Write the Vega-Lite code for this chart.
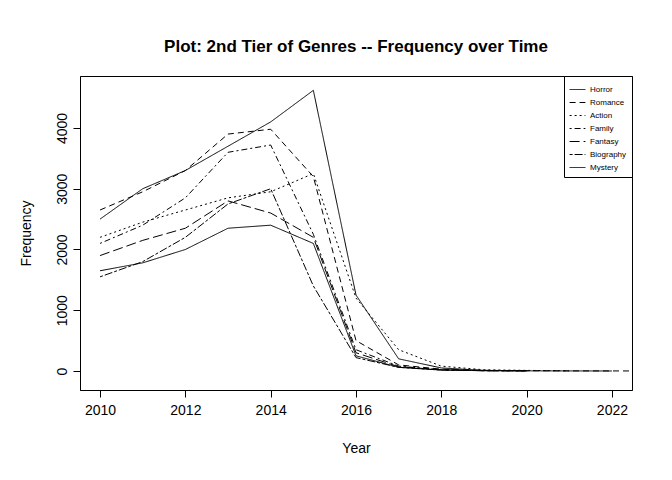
{
  "$schema": "https://vega.github.io/schema/vega-lite/v6.json",
  "width": 552,
  "height": 314,
  "autosize": "none",
  "padding": {"left": 80, "top": 76, "right": 40, "bottom": 90},
  "title": {"text": "Plot: 2nd Tier of Genres -- Frequency over Time", "font": "Liberation Sans", "fontSize": 17, "fontWeight": "bold", "offset": 20},
  "config": {"view": {"stroke": "black", "strokeWidth": 1}, "font": "Liberation Sans"},
  "data": {"values": [
    {"g":"Horror","y":2010,"v":2500},{"g":"Horror","y":2011,"v":3000},{"g":"Horror","y":2012,"v":3300},{"g":"Horror","y":2013,"v":3700},{"g":"Horror","y":2014,"v":4100},{"g":"Horror","y":2015,"v":4620},{"g":"Horror","y":2016,"v":1250},{"g":"Horror","y":2017,"v":200},{"g":"Horror","y":2018,"v":50},{"g":"Horror","y":2019,"v":10},{"g":"Horror","y":2020,"v":5},
    {"g":"Romance","y":2010,"v":2650},{"g":"Romance","y":2011,"v":2950},{"g":"Romance","y":2012,"v":3300},{"g":"Romance","y":2013,"v":3900},{"g":"Romance","y":2014,"v":3980},{"g":"Romance","y":2015,"v":3200},{"g":"Romance","y":2016,"v":500},{"g":"Romance","y":2017,"v":100},{"g":"Romance","y":2018,"v":30},{"g":"Romance","y":2019,"v":10},{"g":"Romance","y":2020,"v":5},{"g":"Romance","y":2021,"v":2},{"g":"Romance","y":2022,"v":1},{"g":"Romance","y":2023,"v":0},
    {"g":"Action","y":2010,"v":2200},{"g":"Action","y":2011,"v":2450},{"g":"Action","y":2012,"v":2650},{"g":"Action","y":2013,"v":2850},{"g":"Action","y":2014,"v":2950},{"g":"Action","y":2015,"v":3250},{"g":"Action","y":2016,"v":1200},{"g":"Action","y":2017,"v":350},{"g":"Action","y":2018,"v":80},{"g":"Action","y":2019,"v":20},{"g":"Action","y":2020,"v":10},{"g":"Action","y":2021,"v":3},
    {"g":"Family","y":2010,"v":2100},{"g":"Family","y":2011,"v":2400},{"g":"Family","y":2012,"v":2850},{"g":"Family","y":2013,"v":3600},{"g":"Family","y":2014,"v":3720},{"g":"Family","y":2015,"v":2250},{"g":"Family","y":2016,"v":350},{"g":"Family","y":2017,"v":80},{"g":"Family","y":2018,"v":20},{"g":"Family","y":2019,"v":5},{"g":"Family","y":2020,"v":2},
    {"g":"Fantasy","y":2010,"v":1900},{"g":"Fantasy","y":2011,"v":2150},{"g":"Fantasy","y":2012,"v":2350},{"g":"Fantasy","y":2013,"v":2800},{"g":"Fantasy","y":2014,"v":2600},{"g":"Fantasy","y":2015,"v":2200},{"g":"Fantasy","y":2016,"v":300},{"g":"Fantasy","y":2017,"v":70},{"g":"Fantasy","y":2018,"v":20},{"g":"Fantasy","y":2019,"v":5},{"g":"Fantasy","y":2020,"v":2},
    {"g":"Biography","y":2010,"v":1550},{"g":"Biography","y":2011,"v":1800},{"g":"Biography","y":2012,"v":2200},{"g":"Biography","y":2013,"v":2750},{"g":"Biography","y":2014,"v":3000},{"g":"Biography","y":2015,"v":1400},{"g":"Biography","y":2016,"v":220},{"g":"Biography","y":2017,"v":60},{"g":"Biography","y":2018,"v":15},{"g":"Biography","y":2019,"v":5},{"g":"Biography","y":2020,"v":2},
    {"g":"Mystery","y":2010,"v":1650},{"g":"Mystery","y":2011,"v":1780},{"g":"Mystery","y":2012,"v":2000},{"g":"Mystery","y":2013,"v":2350},{"g":"Mystery","y":2014,"v":2400},{"g":"Mystery","y":2015,"v":2100},{"g":"Mystery","y":2016,"v":250},{"g":"Mystery","y":2017,"v":60},{"g":"Mystery","y":2018,"v":15},{"g":"Mystery","y":2019,"v":5},{"g":"Mystery","y":2020,"v":2},{"g":"Mystery","y":2021,"v":1},{"g":"Mystery","y":2022,"v":0}
  ]},
  "mark": {"type": "line", "color": "black", "strokeWidth": 1, "clip": true},
  "encoding": {
    "x": {"field": "y", "type": "quantitative", "title": "Year",
      "scale": {"domain": [2009.53, 2022.47], "nice": false, "zero": false},
      "axis": {"values": [2010,2012,2014,2016,2018,2020,2022], "format": "d", "grid": false, "domainColor": "black", "tickColor": "black", "tickSize": 7, "labelFontSize": 14, "labelColor": "black", "titleFontSize": 14, "titleFontWeight": "normal", "titleColor": "black", "titlePadding": 24, "labelPadding": 6}},
    "y": {"field": "v", "type": "quantitative", "title": "Frequency",
      "scale": {"domain": [-313, 4856], "nice": false, "zero": false},
      "axis": {"values": [0,1000,2000,3000,4000], "format": "d", "grid": false, "domainColor": "black", "tickColor": "black", "tickSize": 7, "labelAngle": -90, "labelAlign": "center", "labelBaseline": "bottom", "labelFontSize": 14, "labelColor": "black", "titleFontSize": 14, "titleFontWeight": "normal", "titleColor": "black", "titlePadding": 22, "labelPadding": 4}},
    "detail": {"field": "g"},
    "strokeDash": {"field": "g", "type": "nominal",
      "scale": {"domain": ["Horror","Romance","Action","Family","Fantasy","Biography","Mystery"],
        "range": [[1,0],[6,4],[2,3],[2,3,6,3],[10,4],[3,2,8,2],[1,0]]},
      "legend": {"title": null, "orient": "top-right", "offset": 0, "strokeColor": "black", "padding": 5, "labelFontSize": 8, "symbolType": "stroke", "symbolStrokeColor": "black", "symbolStrokeWidth": 1, "symbolSize": 250, "rowPadding": 0, "labelColor": "black", "fillColor": "white"}}
  }
}
